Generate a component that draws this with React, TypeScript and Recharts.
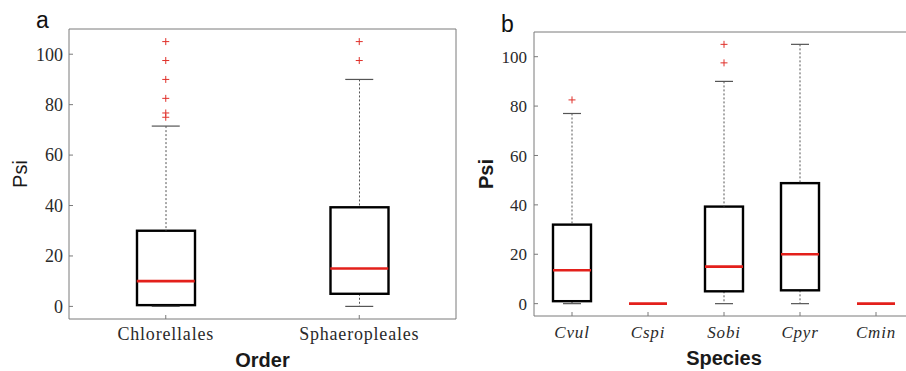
import React from 'react';
import { Bar, ComposedChart, Line, XAxis, YAxis } from 'recharts';

// panel a: by order
const ORDERS = ['Chlorellales', 'Sphaeropleales'];
const ORDER_LOW = [0, 0];
const ORDER_Q1 = [0.5, 5];
const ORDER_MEDIAN = [10, 15];
const ORDER_Q3 = [30, 39.3];
const ORDER_HIGH = [71.5, 90];
const ORDER_OUTLIERS = [
  [105, 97.5, 90, 82.5, 76.7, 75],
  [105, 97.5]
];

// panel b: by species
const SPECIES = ['Cvul', 'Cspi', 'Sobi', 'Cpyr', 'Cmin'];
const SPECIES_LOW = [0, 0, 0, 0, 0];
const SPECIES_Q1 = [1, 0, 5, 5.4, 0];
const SPECIES_MEDIAN = [13.5, 0, 15, 20, 0];
const SPECIES_Q3 = [32, 0, 39.3, 48.8, 0];
const SPECIES_HIGH = [77, 0, 90, 105, 0];
const SPECIES_OUTLIERS = [[82.5], [], [105, 97.5], [], []];

const PSI_TICKS = [0, 20, 40, 60, 80, 100];
const PSI_DOMAIN: [number, number] = [-5, 110];

const FRAME = '#7a7a7a';
const SERIF = '"Liberation Serif", "Times New Roman", serif';
const SANS = '"Liberation Sans", Arial, sans-serif';

type Row = Record<string, string | number>;

function buildRows(
  names: string[],
  low: number[],
  q1: number[],
  med: number[],
  q3: number[],
  high: number[],
  outliers: number[][]
): Row[] {
  return names.map((name, i) => {
    const row: Row = {
      name,
      base: low[i],
      lowerWhisker: q1[i] - low[i],
      box: q3[i] - q1[i],
      upperWhisker: high[i] - q3[i],
      low: low[i],
      high: high[i],
      median: med[i]
    };
    outliers[i].forEach((v, k) => {
      row[`out${k}`] = v;
    });
    return row;
  });
}

const Empty = () => <g />;

const Whisker = (props: any) => {
  const { x, y, width, height } = props;
  if (!height) return <g />;
  const cx = x + width / 2;
  return <line x1={cx} x2={cx} y1={y} y2={y + height} stroke="#555" strokeWidth={1} strokeDasharray="2 2" />;
};

const Box = (props: any) => {
  const { x, y, width, height } = props;
  return <rect x={x} y={y} width={width} height={height || 0} fill="#fff" stroke="#000" strokeWidth={2.4} />;
};

const hLine = (w: number, color: string, sw: number) => (props: any) => {
  const { cx, cy, index } = props;
  if (cy == null || cx == null || Number.isNaN(cy)) return <g key={index} />;
  return <line key={index} x1={cx - w / 2} x2={cx + w / 2} y1={cy} y2={cy} stroke={color} strokeWidth={sw} />;
};

const plus = (props: any) => {
  const { cx, cy, index } = props;
  if (cy == null || cx == null || Number.isNaN(cy)) return <g key={index} />;
  return (
    <g key={index} stroke="#e0302a" strokeWidth={1}>
      <line x1={cx - 3.5} x2={cx + 3.5} y1={cy} y2={cy} />
      <line x1={cx} x2={cx} y1={cy - 3.5} y2={cy + 3.5} />
    </g>
  );
};

interface PanelProps {
  rows: Row[];
  outlierCount: number;
  left: number;
  margin: { top: number; right: number; bottom: number; left: number };
  yAxisWidth: number;
  boxWidth: number;
  capWidth: number;
  yTickSize: number;
  yTickMargin: number;
  xTickMargin: number;
  xTick: Record<string, any>;
  xTitle: string;
  xTitleOffset: number;
  yTitleBold: boolean;
  yTitleOffset: number;
}

const Panel: React.FC<PanelProps> = ({
  rows,
  outlierCount,
  left,
  margin,
  yAxisWidth,
  boxWidth,
  capWidth,
  yTickSize,
  yTickMargin,
  xTickMargin,
  xTick,
  xTitle,
  xTitleOffset,
  yTitleBold,
  yTitleOffset
}) => {
  const outKeys = Array.from({ length: outlierCount }, (_, k) => `out${k}`);
  return (
    <div style={{ position: 'absolute', left, top: 0, fontFamily: SERIF }}>
      <ComposedChart width={460} height={371} data={rows} margin={margin} style={{ fontFamily: SERIF }}>
        <XAxis
          dataKey="name"
          interval={0}
          height={30}
          stroke={FRAME}
          tickSize={-4}
          tickMargin={xTickMargin}
          tick={{ fill: '#2a2a2a', ...xTick }}
          label={{
            value: xTitle,
            position: 'bottom',
            offset: xTitleOffset,
            style: { fontFamily: SANS, fontWeight: 700, fontSize: 20, fill: '#1a1a1a' }
          }}
        />
        <XAxis xAxisId="top" orientation="top" dataKey="name" height={1} stroke={FRAME} tickSize={-4} tick={false} />
        <YAxis
          domain={PSI_DOMAIN}
          ticks={PSI_TICKS}
          width={yAxisWidth}
          stroke={FRAME}
          tickSize={-4}
          tickMargin={yTickMargin}
          tick={{ fill: '#2a2a2a', fontSize: yTickSize, style: { fontFamily: SERIF } }}
          label={{
            value: 'Psi',
            angle: -90,
            position: 'insideLeft',
            offset: yTitleOffset,
            style: {
              textAnchor: 'middle',
              fontFamily: SANS,
              fontWeight: yTitleBold ? 700 : 400,
              fontSize: 20,
              fill: '#1a1a1a'
            }
          }}
        />
        <YAxis
          yAxisId="right"
          orientation="right"
          domain={PSI_DOMAIN}
          ticks={PSI_TICKS}
          width={1}
          stroke={FRAME}
          tickSize={-4}
          tick={false}
        />
        <Bar dataKey="base" stackId="bp" barSize={boxWidth} shape={Empty} isAnimationActive={false} />
        <Bar dataKey="lowerWhisker" stackId="bp" barSize={boxWidth} shape={Whisker} isAnimationActive={false} />
        <Bar dataKey="box" stackId="bp" barSize={boxWidth} shape={Box} isAnimationActive={false} />
        <Bar dataKey="upperWhisker" stackId="bp" barSize={boxWidth} shape={Whisker} isAnimationActive={false} />
        <Line dataKey="low" stroke="none" dot={hLine(capWidth, '#555', 1.2)} activeDot={false} isAnimationActive={false} />
        <Line dataKey="high" stroke="none" dot={hLine(capWidth, '#555', 1.2)} activeDot={false} isAnimationActive={false} />
        <Line dataKey="median" stroke="none" dot={hLine(boxWidth, '#e3201b', 2.6)} activeDot={false} isAnimationActive={false} />
        {outKeys.map((k) => (
          <Line key={k} dataKey={k} stroke="none" dot={plus} activeDot={false} isAnimationActive={false} />
        ))}
      </ComposedChart>
    </div>
  );
};

const orderRows = buildRows(ORDERS, ORDER_LOW, ORDER_Q1, ORDER_MEDIAN, ORDER_Q3, ORDER_HIGH, ORDER_OUTLIERS);
const speciesRows = buildRows(
  SPECIES,
  SPECIES_LOW,
  SPECIES_Q1,
  SPECIES_MEDIAN,
  SPECIES_Q3,
  SPECIES_HIGH,
  SPECIES_OUTLIERS
);

export default function App() {
  return (
    <div
      style={{
        position: 'fixed',
        left: 0,
        top: 0,
        width: 906,
        height: 371,
        overflow: 'hidden',
        background: '#fff'
      }}
    >
      <Panel
        rows={orderRows}
        outlierCount={Math.max(...ORDER_OUTLIERS.map((o) => o.length))}
        left={0}
        margin={{ top: 28, right: 3, bottom: 22, left: 0 }}
        yAxisWidth={69}
        boxWidth={58}
        capWidth={28}
        yTickSize={18}
        yTickMargin={10}
        xTickMargin={12}
        xTick={{ fontSize: 18, letterSpacing: 0.8, style: { fontFamily: SERIF } }}
        xTitle="Order"
        xTitleOffset={4}
        yTitleBold={false}
        yTitleOffset={20}
      />
      <Panel
        rows={speciesRows}
        outlierCount={Math.max(...SPECIES_OUTLIERS.map((o) => o.length))}
        left={460}
        margin={{ top: 31, right: 5, bottom: 25, left: 0 }}
        yAxisWidth={74}
        boxWidth={38}
        capWidth={18}
        yTickSize={17}
        yTickMargin={11}
        xTickMargin={14}
        xTick={{ fontSize: 17, fontStyle: 'italic', letterSpacing: 0.8, style: { fontFamily: SERIF } }}
        xTitle="Species"
        xTitleOffset={5}
        yTitleBold={true}
        yTitleOffset={26}
      />
      <svg
        width={906}
        height={371}
        style={{ position: 'absolute', left: 0, top: 0, pointerEvents: 'none' }}
      >
        <text x={36} y={28} fontFamily={SANS} fontSize={23} fill="#111">
          a
        </text>
        <text x={501} y={31.5} fontFamily={SANS} fontSize={23} fill="#111">
          b
        </text>
      </svg>
    </div>
  );
}
